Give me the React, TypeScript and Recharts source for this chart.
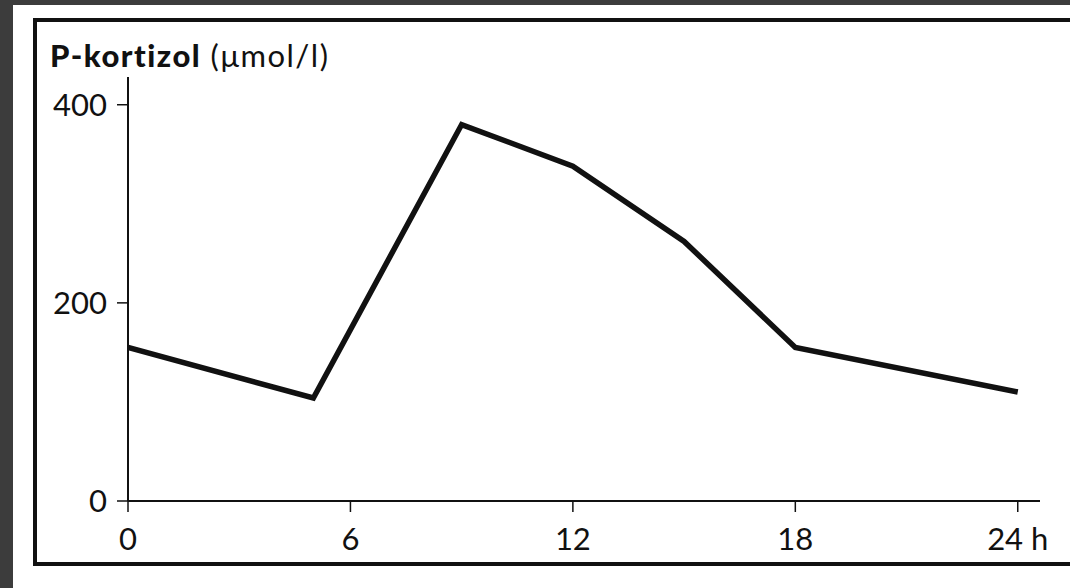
import { LineChart, Line, XAxis, YAxis } from 'recharts';

// hours after midnight and plasma cortisol
const hours = [0, 5, 9, 12, 15, 18, 24];
const cortisol = [155, 104, 380, 338, 262, 155, 110];
const xTicks = [0, 6, 12, 18, 24];
const yTicks = [0, 200, 400];

const data = hours.map((h, i) => ({ h, v: cortisol[i] }));

const FONT = 'Lato, "Open Sans", sans-serif';
const INK = '#111';

export default function App() {
  return (
    <div
      style={{
        position: 'fixed',
        left: 0,
        top: 0,
        width: 1070,
        height: 588,
        overflow: 'hidden',
        background: '#3c3c3c',
        fontFamily: FONT,
      }}
    >
      <div style={{ position: 'absolute', left: 13, top: 5, width: 1057, height: 583, background: '#fff' }} />
      {/* frame: open on the right, it runs past the edge */}
      <div
        style={{
          position: 'absolute',
          left: 33,
          top: 18,
          width: 1040,
          height: 540,
          borderTop: `4px solid ${INK}`,
          borderLeft: `4px solid ${INK}`,
          borderBottom: `4px solid ${INK}`,
        }}
      />
      <div
        style={{
          position: 'absolute',
          left: 50,
          top: 36,
          fontSize: 31,
          letterSpacing: 1.5,
          lineHeight: '38px',
          color: INK,
          whiteSpace: 'nowrap',
        }}
      >
        <span style={{ fontWeight: 900 }}>P-kortizol</span>
        <span> (μmol/l)</span>
      </div>
      <div style={{ position: 'absolute', left: 0, top: 0 }}>
        <LineChart
          width={1070}
          height={588}
          data={data}
          margin={{ top: 77, right: 30, bottom: 47, left: 68 }}
        >
          <XAxis
            dataKey="h"
            type="number"
            domain={[0, 24.6]}
            ticks={xTicks}
            allowDataOverflow
            height={40}
            tickSize={11}
            tickMargin={16}
            tickFormatter={(v) => (v === 24 ? '24 h' : String(v))}
            axisLine={{ stroke: INK, strokeWidth: 2 }}
            tickLine={{ stroke: INK, strokeWidth: 1.5 }}
            tick={{ fill: INK, fontSize: 31, fontFamily: FONT }}
          />
          <YAxis
            type="number"
            domain={[0, 428]}
            ticks={yTicks}
            width={60}
            tickSize={11}
            tickMargin={10}
            axisLine={{ stroke: INK, strokeWidth: 2 }}
            tickLine={{ stroke: INK, strokeWidth: 1.5 }}
            tick={{ fill: INK, fontSize: 31, fontFamily: FONT }}
          />
          <Line
            dataKey="v"
            type="linear"
            stroke={INK}
            strokeWidth={5.5}
            strokeLinejoin="miter"
            dot={false}
            activeDot={false}
            isAnimationActive={false}
          />
        </LineChart>
      </div>
    </div>
  );
}
